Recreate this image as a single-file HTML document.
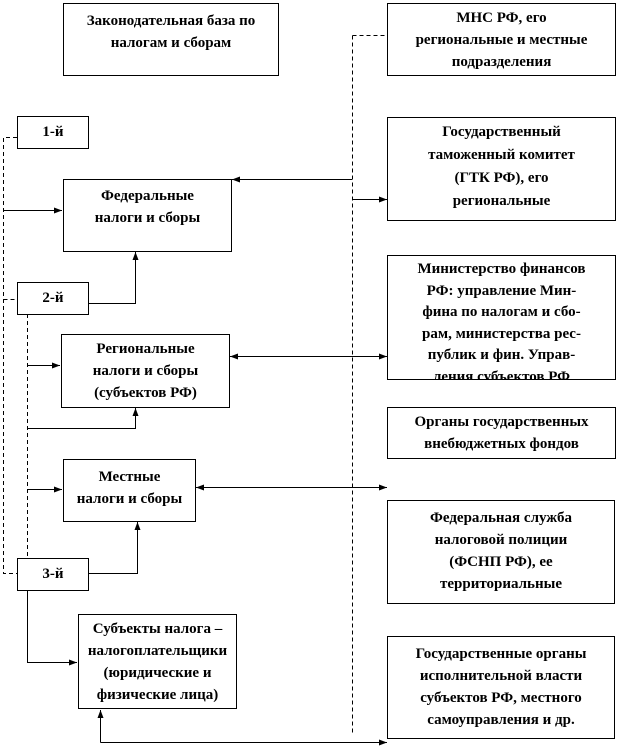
<!DOCTYPE html>
<html><head><meta charset="utf-8"><style>
body{margin:0;width:619px;height:748px;background:#fff;position:relative;overflow:hidden;font-family:"Liberation Serif","DejaVu Serif",serif;font-weight:bold;font-size:15px;color:#000}
.b{position:absolute;border:1px solid #000;box-sizing:border-box;text-align:center;line-height:22px;overflow:hidden;background:#fff}
svg{position:absolute;left:0;top:0}
</style></head><body>
<svg width="619" height="748">
<defs><marker id="a" markerWidth="8" markerHeight="6" refX="8" refY="3" orient="auto" markerUnits="userSpaceOnUse"><path d="M0,0L8,3L0,6z" fill="#000"/></marker></defs>
<g stroke="#000" stroke-width="1" fill="none" stroke-dasharray="4,3">
<path d="M352.5,35.5H388M352.5,35.5V735"/>
<path d="M17,137.5H3.5V573.5H17M3.5,299.5H17"/>
<path d="M27.5,314V559"/>
</g>
<g stroke="#000" stroke-width="1" fill="none">
<path d="M352,179.5H232" marker-end="url(#a)"/>
<path d="M352,199.5H387" marker-end="url(#a)"/>
<path d="M3,210.5H62" marker-end="url(#a)"/>
<path d="M89,303.5H135.5V252" marker-end="url(#a)"/>
<path d="M240,356.5H387" marker-end="url(#a)"/>
<path d="M240,356.5H230" marker-end="url(#a)"/>
<path d="M27,365.5H60" marker-end="url(#a)"/>
<path d="M27,428.5H135.5V408" marker-end="url(#a)"/>
<path d="M27,489.5H62" marker-end="url(#a)"/>
<path d="M205,487.5H387" marker-end="url(#a)"/>
<path d="M205,487.5H196" marker-end="url(#a)"/>
<path d="M89,573.5H137.5V522" marker-end="url(#a)"/>
<path d="M27.5,590V662.5H77" marker-end="url(#a)"/>
<path d="M100.5,742.5H387" marker-end="url(#a)"/>
<path d="M100.5,742.5V710" marker-end="url(#a)"/>
</g>
</svg>
<div class="b" style="left:63px;top:3px;width:216px;height:73px;padding-top:6px">Законодательная база по<br>налогам и сборам</div>
<div class="b" style="left:387px;top:3px;width:229px;height:73px;padding-top:3px">МНС РФ, его<br>региональные и местные<br>подразделения</div>
<div class="b" style="left:387px;top:117px;width:229px;height:104px;padding-top:3px;line-height:23px">Государственный<br>таможенный комитет<br>(ГТК РФ), его<br>региональные<br>подразделения</div>
<div class="b" style="left:387px;top:255px;width:229px;height:125px;padding-top:3px;line-height:21.5px">Министерство финансов<br>РФ: управление Мин-<br>фина по налогам и сбо-<br>рам, министерства рес-<br>публик и фин. Управ-<br>ления субъектов РФ</div>
<div class="b" style="left:387px;top:407px;width:229px;height:52px;padding-top:3px">Органы государственных<br>внебюджетных фондов</div>
<div class="b" style="left:387px;top:500px;width:228px;height:104px;padding-top:6px">Федеральная служба<br>налоговой полиции<br>(ФСНП РФ), ее<br>территориальные</div>
<div class="b" style="left:387px;top:636px;width:228px;height:103px;padding-top:6px">Государственные органы<br>исполнительной власти<br>субъектов РФ, местного<br>самоуправления и др.</div>
<div class="b" style="left:17px;top:116px;width:72px;height:33px;line-height:30px">1-й</div>
<div class="b" style="left:17px;top:282px;width:72px;height:33px;line-height:30px">2-й</div>
<div class="b" style="left:17px;top:558px;width:72px;height:33px;line-height:30px">3-й</div>
<div class="b" style="left:63px;top:179px;width:169px;height:73px;padding-top:5px">Федеральные<br>налоги и сборы</div>
<div class="b" style="left:61px;top:334px;width:169px;height:74px;padding-top:3px">Региональные<br>налоги и сборы<br>(субъектов РФ)</div>
<div class="b" style="left:63px;top:459px;width:133px;height:63px;padding-top:6px">Местные<br>налоги и сборы</div>
<div class="b" style="left:78px;top:614px;width:159px;height:95px;padding-top:3px">Субъекты налога –<br>налогоплательщики<br>(юридические и<br>физические лица)</div>
</body></html>
